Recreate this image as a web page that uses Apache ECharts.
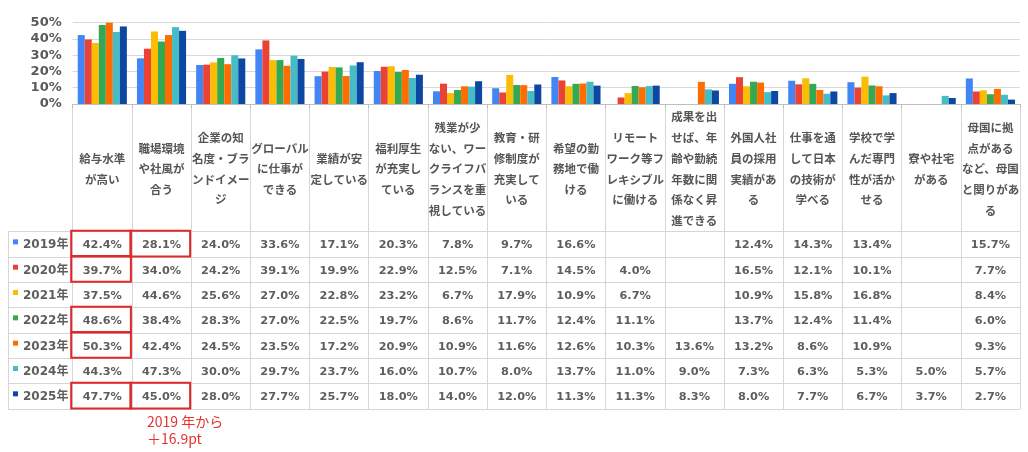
<!DOCTYPE html>
<html><head><meta charset="utf-8">
<script src="https://cdn.jsdelivr.net/npm/echarts@6/dist/echarts.min.js"></script>
<style>html,body{margin:0;padding:0;background:#fff}#c{width:1028px;height:452px}</style>
</head><body><div id="c"></div>
<script>
const categories = [
  '給与水準\nが高い',
  '職場環境\nや社風が\n合う',
  '企業の知\n名度・ブラ\nンドイメー\nジ',
  'グローバル\nに仕事が\nできる',
  '業績が安\n定している',
  '福利厚生\nが充実し\nている',
  '残業が少\nない、ワー\nクライフバ\nランスを重\n視している',
  '教育・研\n修制度が\n充実して\nいる',
  '希望の勤\n務地で働\nける',
  'リモート\nワーク等フ\nレキシブル\nに働ける',
  '成果を出\nせば、年\n齢や勤続\n年数に関\n係なく昇\n進できる',
  '外国人社\n員の採用\n実績があ\nる',
  '仕事を通\nして日本\nの技術が\n学べる',
  '学校で学\nんだ専門\n性が活か\nせる',
  '寮や社宅\nがある',
  '母国に拠\n点がある\nなど、母国\nと関りがあ\nる'
];
const years = ['2019年','2020年','2021年','2022年','2023年','2024年','2025年'];
const yearColors = ['#4285F4','#EA4335','#FBBC04','#34A853','#FF6D01','#46BDC6','#0D47A1'];
const v2019 = [42.4, 28.1, 24.0, 33.6, 17.1, 20.3, 7.8, 9.7, 16.6, null, null, 12.4, 14.3, 13.4, null, 15.7];
const v2020 = [39.7, 34.0, 24.2, 39.1, 19.9, 22.9, 12.5, 7.1, 14.5, 4.0, null, 16.5, 12.1, 10.1, null, 7.7];
const v2021 = [37.5, 44.6, 25.6, 27.0, 22.8, 23.2, 6.7, 17.9, 10.9, 6.7, null, 10.9, 15.8, 16.8, null, 8.4];
const v2022 = [48.6, 38.4, 28.3, 27.0, 22.5, 19.7, 8.6, 11.7, 12.4, 11.1, null, 13.7, 12.4, 11.4, null, 6.0];
const v2023 = [50.3, 42.4, 24.5, 23.5, 17.2, 20.9, 10.9, 11.6, 12.6, 10.3, 13.6, 13.2, 8.6, 10.9, null, 9.3];
const v2024 = [44.3, 47.3, 30.0, 29.7, 23.7, 16.0, 10.7, 8.0, 13.7, 11.0, 9.0, 7.3, 6.3, 5.3, 5.0, 5.7];
const v2025 = [47.7, 45.0, 28.0, 27.7, 25.7, 18.0, 14.0, 12.0, 11.3, 11.3, 8.3, 8.0, 7.7, 6.7, 3.7, 2.7];
const seriesValues = [v2019, v2020, v2021, v2022, v2023, v2024, v2025];
const yTicks = [0, 10, 20, 30, 40, 50];
// highlighted cells: [categoryIndex, yearIndex]
const highlightCells = [[0,0],[1,0],[0,1],[0,3],[0,4],[0,6],[1,6]];
const annotationText = '2019 年から\n＋16.9pt';

const chart = echarts.init(document.getElementById('c'), null, {renderer:'canvas'});
const lineColor = '#d6d6d6';
const textGray = '#5e5e5e';

const tableData = [];
seriesValues.forEach((arr, r) => arr.forEach((v, c) => { if (v != null) tableData.push([c, r, v]); }));

const barSeries = seriesValues.map((arr, i) => ({
  type: 'bar', name: years[i], xAxisIndex: 0, yAxisIndex: 0,
  data: arr, barGap: '0%', barCategoryGap: '17%',
  itemStyle: {color: yearColors[i]}
}));

const tableAxisX = gi => ({
  gridIndex: gi, type: 'category', data: categories,
  axisLine: {show: false}, axisTick: {show: false}, axisLabel: {show: false},
  splitLine: {show: true, interval: 0, lineStyle: {color: lineColor, width: 1}}
});

const option = {
  animation: false,
  grid: [
    {left: 72.7, right: 8, top: 22.7, height: 81.3, outerBoundsMode: 'none'},
    {left: 72.7, right: 8, top: 231.7, height: 177.3, outerBoundsMode: 'none'},
    {left: 72.7, right: 8, top: 104, height: 127.7, outerBoundsMode: 'none'},
    {left: 8, width: 64.7, top: 231.7, height: 177.3, outerBoundsMode: 'none'}
  ],
  xAxis: [
    {gridIndex: 0, type: 'category', data: categories,
     axisLine: {show: true, lineStyle: {color: '#bfbfbf'}},
     axisTick: {show: true, interval: 0, length: 4, lineStyle: {color: '#bfbfbf'}},
     axisLabel: {show: false}},
    tableAxisX(1),
    tableAxisX(2),
    {gridIndex: 3, type: 'category', data: [''],
     axisLine: {show: false}, axisTick: {show: false}, axisLabel: {show: false},
     splitLine: {show: true, interval: 0, lineStyle: {color: lineColor, width: 1}}}
  ],
  yAxis: [
    {gridIndex: 0, type: 'value', min: yTicks[0], max: yTicks[yTicks.length-1], interval: 10,
     axisLine: {show: false}, axisTick: {show: false},
     axisLabel: {formatter: '{value}%', color: '#595959', fontWeight: 'bold', fontSize: 13, fontFamily: 'DejaVu Sans', margin: 11},
     splitLine: {show: true, lineStyle: {color: '#d9d9d9'}}},
    {gridIndex: 1, type: 'category', data: years, inverse: true,
     axisLine: {show: false}, axisTick: {show: false}, axisLabel: {show: false},
     splitLine: {show: true, interval: 0, lineStyle: {color: lineColor, width: 1}}},
    {gridIndex: 2, type: 'category', data: [''],
     axisLine: {show: false}, axisTick: {show: false}, axisLabel: {show: false}, splitLine: {show: false}},
    {gridIndex: 3, type: 'category', data: years, inverse: true,
     axisLine: {show: false}, axisTick: {show: false}, axisLabel: {show: false},
     splitLine: {show: true, interval: 0, lineStyle: {color: lineColor, width: 1}}}
  ],
  series: barSeries.concat([
    {type: 'custom', xAxisIndex: 2, yAxisIndex: 2, encode: {x: 0, y: 1},
     data: categories.map((c, i) => [i, 0]),
     renderItem: (params, api) => {
       const p = api.coord([api.value(0), api.value(1)]);
       return {type: 'text', style: {text: categories[api.value(0)], x: p[0], y: p[1] + 1,
         align: 'center', verticalAlign: 'middle', fill: '#555',
         font: 'bold 11.5px "Noto Sans CJK JP"', lineHeight: 20.7}};
     }},
    {type: 'custom', xAxisIndex: 1, yAxisIndex: 1, encode: {x: 0, y: 1},
     data: tableData,
     renderItem: (params, api) => {
       const p = api.coord([api.value(0), api.value(1)]);
       return {type: 'text', style: {text: api.value(2).toFixed(1) + '%', x: p[0], y: p[1] + 1,
         align: 'center', verticalAlign: 'middle', fill: textGray,
         font: 'bold 11.3px "DejaVu Sans"'}};
     }},
    {type: 'custom', xAxisIndex: 1, yAxisIndex: 1, encode: {x: 0, y: 1}, z: 5,
     data: highlightCells,
     renderItem: (params, api) => {
       const p = api.coord([api.value(0), api.value(1)]);
       const s = api.size([1, 1]);
       return {type: 'rect', shape: {x: p[0] - s[0]/2 - 1.5, y: p[1] - s[1]/2 - 1, width: s[0] + 0.5, height: s[1] + 0.5},
         style: {fill: 'none', stroke: '#E0282A', lineWidth: 2}};
     }},
    {type: 'custom', xAxisIndex: 3, yAxisIndex: 3, encode: {x: 0, y: 1},
     data: years.map((y, i) => [0, i]),
     renderItem: (params, api) => {
       const p = api.coord([api.value(0), api.value(1)]);
       const s = api.size([1, 1]);
       const left = p[0] - s[0]/2;
       const i = api.value(1);
       return {type: 'group', children: [
         {type: 'rect', shape: {x: left + 5, y: p[1] - 5, width: 5, height: 5}, style: {fill: yearColors[i]}},
         {type: 'text', style: {text: years[i], x: left + 15, y: p[1] + 1, align: 'left', verticalAlign: 'middle',
           fill: textGray, font: 'bold 12px "DejaVu Sans", "Noto Sans CJK JP"'}}
       ]};
     }}
  ]),
  graphic: [
    {type: 'text', left: 147, top: 413,
     style: {text: annotationText, fill: '#E53330', font: '14px "Noto Sans CJK JP"', lineHeight: 17}}
  ]
};
chart.setOption(option);
</script></body></html>
